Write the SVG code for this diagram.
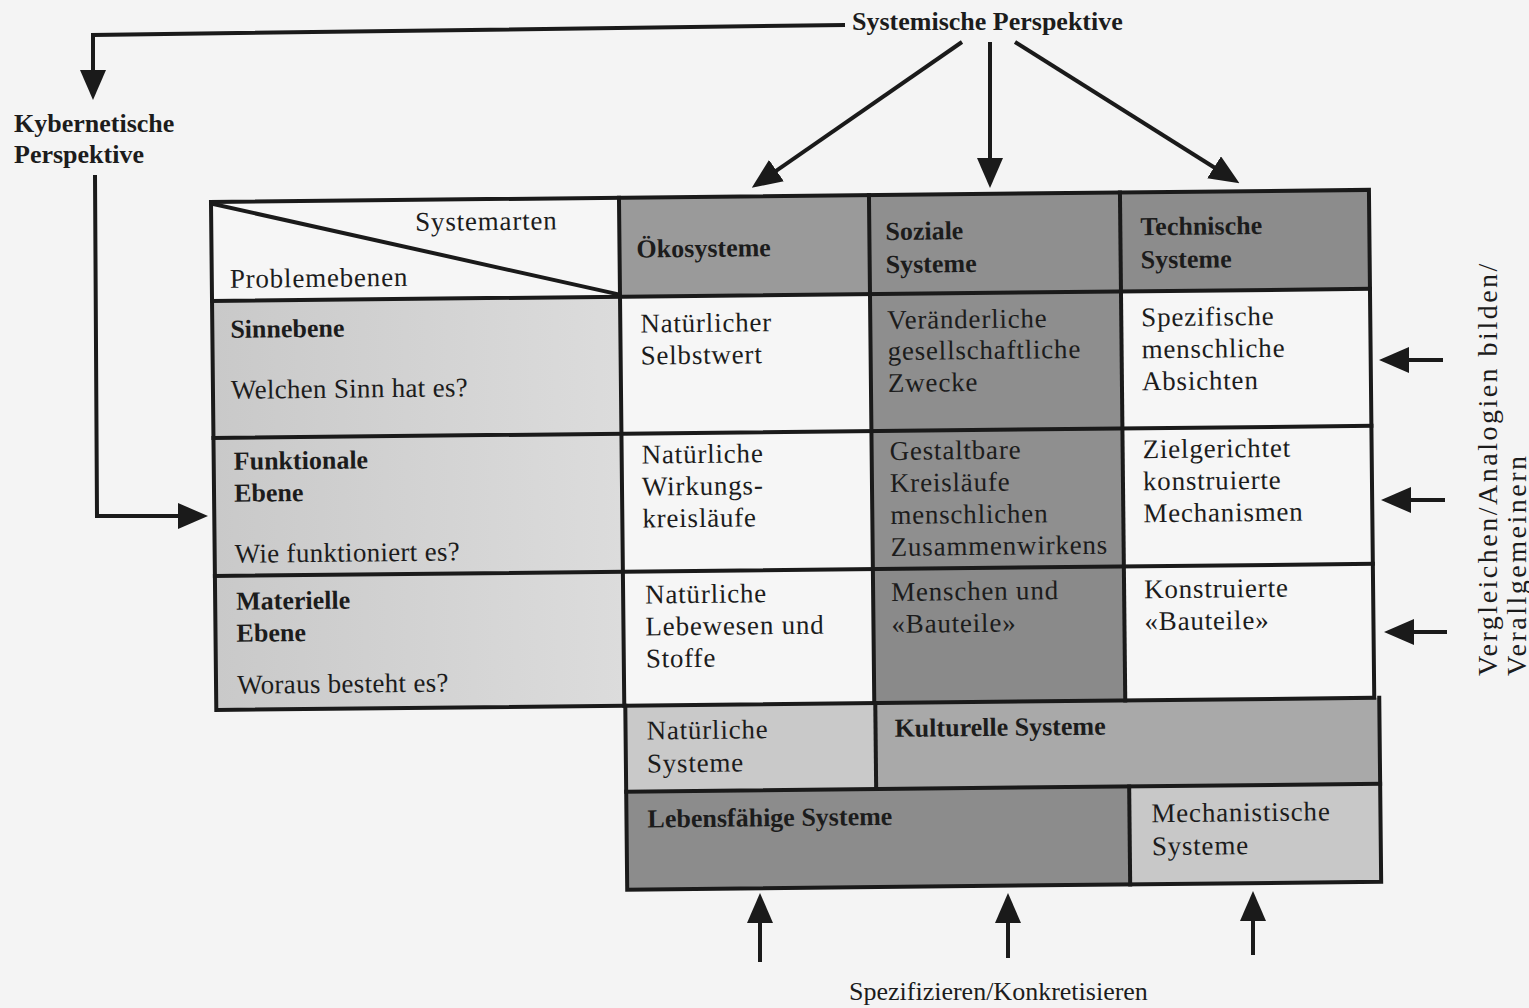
<svg xmlns="http://www.w3.org/2000/svg" width="1529" height="1008" viewBox="0 0 1529 1008">
<style>
text{font-family:"Liberation Serif","Times New Roman",serif;fill:#1c1c1c}
.r{font-size:27px;letter-spacing:0.8px}
.q{font-size:27px;letter-spacing:0.3px}
.b{font-size:26px;font-weight:bold}
.v{font-size:28px;letter-spacing:2.5px}
.grid{stroke:#1a1a1a;stroke-width:4;fill:none;stroke-linecap:square}
.con{stroke:#1a1a1a;stroke-width:4;fill:none}
</style>
<defs>
<marker id="ah" viewBox="0 0 30 26" refX="20" refY="13" markerWidth="30" markerHeight="26" markerUnits="userSpaceOnUse" orient="auto">
<path d="M0,0 L30,13 L0,26 Z" fill="#1a1a1a"/>
</marker>
<linearGradient id="lg" x1="0" y1="0" x2="1" y2="0">
<stop offset="0" stop-color="#c9c9c9"/>
<stop offset="1" stop-color="#dcdcdc"/>
</linearGradient>
</defs>
<rect width="1529" height="1008" fill="#f4f4f4"/>

<g id="table" transform="rotate(-0.6 210 203)">
<g id="corner">
<rect x="211" y="202" width="408" height="99" fill="#f6f6f6"/>
<line class="grid" x1="213" y1="204" x2="619" y2="299"/>
<text class="r" x="415" y="233">Systemarten</text>
<text class="r" x="229" y="288">Problemebenen</text>
</g>
<g id="h-oeko">
<rect x="619" y="202" width="250" height="99" fill="#9a9a9a"/>
<text class="b" x="636" y="262">Ökosysteme</text>
</g>
<g id="h-sozial">
<rect x="869" y="202" width="251" height="99" fill="#8f8f8f"/>
<text class="b" x="885" y="247">Soziale</text>
<text class="b" x="885" y="280">Systeme</text>
</g>
<g id="h-tech">
<rect x="1120" y="202" width="249" height="99" fill="#8c8c8c"/>
<text class="b" x="1140" y="245">Technische</text>
<text class="b" x="1140" y="278">Systeme</text>
</g>

<g id="sinnebene">
<rect x="211" y="301" width="408" height="137" fill="url(#lg)"/>
<text class="b" x="229" y="338">Sinnebene</text>
<text class="q" x="229" y="399">Welchen Sinn hat es?</text>
</g>
<g id="c-oeko-sinn">
<rect x="619" y="301" width="250" height="137" fill="#f6f6f6"/>
<text class="r" x="639" y="337">Natürlicher</text>
<text class="r" x="639" y="369">Selbstwert</text>
</g>
<g id="c-sozial-sinn">
<rect x="869" y="301" width="251" height="137" fill="#8e8e8e"/>
<text class="r" x="886" y="336">Veränderliche</text>
<text class="r" x="886" y="367">gesellschaftliche</text>
<text class="r" x="886" y="399">Zwecke</text>
</g>
<g id="c-tech-sinn">
<rect x="1120" y="301" width="249" height="137" fill="#f6f6f6"/>
<text class="r" x="1140" y="336">Spezifische</text>
<text class="r" x="1140" y="368">menschliche</text>
<text class="r" x="1140" y="400">Absichten</text>
</g>

<g id="funktional">
<rect x="211" y="438" width="408" height="138" fill="url(#lg)"/>
<text class="b" x="231" y="470">Funktionale</text>
<text class="b" x="231" y="502">Ebene</text>
<text class="q" x="231" y="563">Wie funktioniert es?</text>
</g>
<g id="c-oeko-funk">
<rect x="619" y="438" width="250" height="138" fill="#f6f6f6"/>
<text class="r" x="639" y="468">Natürliche</text>
<text class="r" x="639" y="500">Wirkungs-</text>
<text class="r" x="639" y="532">kreisläufe</text>
</g>
<g id="c-sozial-funk">
<rect x="869" y="438" width="251" height="138" fill="#8f8f8f"/>
<text class="r" x="887" y="467">Gestaltbare</text>
<text class="r" x="887" y="499">Kreisläufe</text>
<text class="r" x="887" y="531">menschlichen</text>
<text class="r" x="887" y="563">Zusammenwirkens</text>
</g>
<g id="c-tech-funk">
<rect x="1120" y="438" width="249" height="138" fill="#f6f6f6"/>
<text class="r" x="1140" y="468">Zielgerichtet</text>
<text class="r" x="1140" y="500">konstruierte</text>
<text class="r" x="1140" y="532">Mechanismen</text>
</g>

<g id="materiell">
<rect x="211" y="576" width="408" height="134" fill="url(#lg)"/>
<text class="b" x="232" y="610">Materielle</text>
<text class="b" x="232" y="642">Ebene</text>
<text class="q" x="232" y="694">Woraus besteht es?</text>
</g>
<g id="c-oeko-mat">
<rect x="619" y="576" width="250" height="134" fill="#f6f6f6"/>
<text class="r" x="641" y="608">Natürliche</text>
<text class="r" x="641" y="640">Lebewesen und</text>
<text class="r" x="641" y="672">Stoffe</text>
</g>
<g id="c-sozial-mat">
<rect x="869" y="576" width="251" height="134" fill="#8a8a8a"/>
<text class="r" x="887" y="608">Menschen und</text>
<text class="r" x="887" y="640">«Bauteile»</text>
</g>
<g id="c-tech-mat">
<rect x="1120" y="576" width="249" height="134" fill="#f6f6f6"/>
<text class="r" x="1140" y="608">Konstruierte</text>
<text class="r" x="1140" y="640">«Bauteile»</text>
</g>

<g id="natuerliche-systeme">
<rect x="620" y="710" width="250" height="86" fill="#c9c9c9"/>
<text class="r" x="641" y="744">Natürliche</text>
<text class="r" x="641" y="777">Systeme</text>
</g>
<g id="kulturelle-systeme">
<rect x="870" y="710" width="504" height="86" fill="#a9a9a9"/>
<text class="b" x="889" y="744">Kulturelle Systeme</text>
</g>
<g id="lebensfaehige-systeme">
<rect x="620" y="796" width="503" height="98" fill="#8c8c8c"/>
<text class="b" x="641" y="832">Lebensfähige Systeme</text>
</g>
<g id="mechanistische-systeme">
<rect x="1123" y="796" width="251" height="98" fill="#c8c8c8"/>
<text class="r" x="1145" y="832">Mechanistische</text>
<text class="r" x="1145" y="865">Systeme</text>
</g>

<g id="gridlines">
<rect class="grid" x="211" y="202" width="1158" height="508" stroke-width="4.5"/>
<line class="grid" x1="211" y1="301" x2="1369" y2="301"/>
<line class="grid" x1="211" y1="438" x2="1369" y2="438"/>
<line class="grid" x1="211" y1="576" x2="1369" y2="576"/>
<line class="grid" x1="619" y1="202" x2="619" y2="710"/>
<line class="grid" x1="869" y1="202" x2="869" y2="710"/>
<line class="grid" x1="1120" y1="202" x2="1120" y2="710"/>
<path class="grid" d="M620,710 L620,894 L1374,894 L1374,710" stroke-width="4.5"/>
<line class="grid" x1="620" y1="796" x2="1374" y2="796"/>
<line class="grid" x1="870" y1="710" x2="870" y2="796"/>
<line class="grid" x1="1123" y1="796" x2="1123" y2="894"/>
</g>
</g>

<g id="systemische-perspektive">
<text class="b" x="852" y="30">Systemische Perspektive</text>
</g>
<g id="kybernetische-perspektive">
<text class="b" x="14" y="132">Kybernetische</text>
<text class="b" x="14" y="163">Perspektive</text>
</g>
<g id="vergleichen-label">
<text class="v" transform="translate(1497,676) rotate(-90)">Vergleichen/Analogien bilden/</text>
<text class="v" transform="translate(1526,676) rotate(-90)">Verallgemeinern</text>
</g>
<g id="spezifizieren-label">
<text style="font-size:26px" x="849" y="1000">Spezifizieren/Konkretisieren</text>
</g>

<g id="connectors">
<path class="con" d="M845,25 L93,35 L93,90" marker-end="url(#ah)"/>
<path class="con" d="M95,175 L97,516 L198,516" marker-end="url(#ah)"/>
<path class="con" d="M962,42 L760,182" marker-end="url(#ah)"/>
<path class="con" d="M990,42 L990,178" marker-end="url(#ah)"/>
<path class="con" d="M1015,42 L1231,178" marker-end="url(#ah)"/>
<path class="con" d="M1443,360 L1389,360" marker-end="url(#ah)"/>
<path class="con" d="M1445,500 L1391,500" marker-end="url(#ah)"/>
<path class="con" d="M1447,632 L1394,632" marker-end="url(#ah)"/>
<path class="con" d="M760,962 L760,903" marker-end="url(#ah)"/>
<path class="con" d="M1008,958 L1008,903" marker-end="url(#ah)"/>
<path class="con" d="M1253,955 L1253,901" marker-end="url(#ah)"/>
</g>
</svg>
